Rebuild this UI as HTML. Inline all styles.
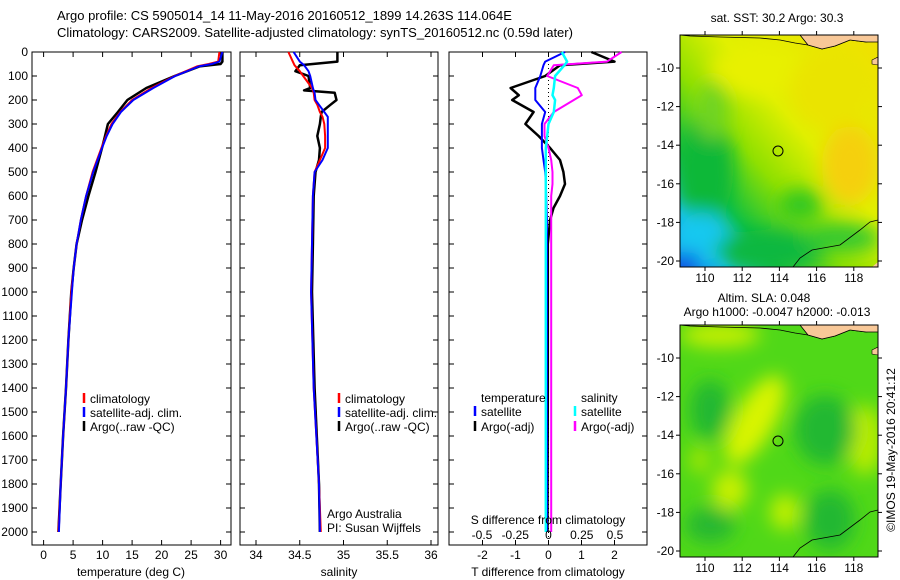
<!DOCTYPE html>
<html><head><meta charset="utf-8"><style>
body{margin:0;background:#fff;}
svg{display:block;font-family:"Liberation Sans",sans-serif;font-size:12px;}
polyline{stroke-linejoin:round;}
</style></head><body>
<svg id="fig" width="900" height="580" viewBox="0 0 900 580">
<defs>
<filter id="blur8"><feGaussianBlur stdDeviation="9"/></filter>
<clipPath id="clipA"><rect x="680" y="35" width="198" height="232"/></clipPath>
<clipPath id="clipB"><rect x="680" y="325" width="198" height="232"/></clipPath>
<linearGradient id="sstg" x1="0" y1="1" x2="1" y2="0">
<stop offset="0" stop-color="#0a5ae8"/><stop offset="0.12" stop-color="#18c0e8"/><stop offset="0.25" stop-color="#10c040"/><stop offset="0.42" stop-color="#90e000"/><stop offset="0.6" stop-color="#e0f000"/><stop offset="1" stop-color="#f0e000"/></linearGradient>
</defs>
<text x="57" y="20" font-size="13">Argo profile: CS 5905014_14 11-May-2016 20160512_1899 14.263S 114.064E</text>
<text x="57" y="37" font-size="13">Climatology: CARS2009. Satellite-adjusted climatology: synTS_20160512.nc (0.59d later)</text>
<g id="panels"></g>
<!-- SST map -->
<g>
<text x="777" y="22" text-anchor="middle">sat. SST: 30.2 Argo: 30.3</text>
<g clip-path="url(#clipA)">
<rect x="680" y="35" width="198" height="232" fill="url(#sstg)"/>
<g filter="url(#blur8)">
<ellipse cx="705" cy="170" rx="28" ry="55" fill="#10b838"/>
<ellipse cx="700" cy="240" rx="30" ry="28" fill="#18c8f0"/>
<ellipse cx="688" cy="262" rx="12" ry="10" fill="#1040e0"/>
<ellipse cx="770" cy="250" rx="55" ry="20" fill="#10b840"/>
<ellipse cx="840" cy="238" rx="40" ry="14" fill="#30c830"/>
<ellipse cx="800" cy="205" rx="22" ry="16" fill="#30c820"/>
<ellipse cx="760" cy="70" rx="50" ry="25" fill="#e8f000"/>
<ellipse cx="712" cy="110" rx="16" ry="30" fill="#70d420"/>
<ellipse cx="850" cy="165" rx="28" ry="40" fill="#f5d010"/>
<ellipse cx="830" cy="90" rx="40" ry="40" fill="#eae400"/>
</g>
<path d="M680,35 L878,35 L878,40 L866,42 L850,40 L835,46 L822,49 L808,45 L795,43 L780,40 L760,38 L720,37 L690,36 Z" fill="none" stroke="#000" stroke-width="0.8"/>
<path d="M800,35 L878,35 L878,42 L866,42 L850,40 L835,46 L822,49 L808,45 Z" fill="#f8c898" stroke="#000" stroke-width="0.8"/>
<path d="M872,60 L878,57 L878,65 L872,64 Z" fill="#f8c898" stroke="#000" stroke-width="0.6"/>
<path d="M793,267 L800,258 L812,250 L840,245 L860,230 L870,222 L878,220" fill="none" stroke="#000" stroke-width="0.8"/>
<path d="M872,267 L878,262 L878,267Z" fill="#f8c898"/>
</g>
<rect x="680" y="35" width="198" height="232" fill="none" stroke="#000"/>
<circle cx="778" cy="151" r="5" fill="none" stroke="#000"/>
</g>
<!-- SLA map -->
<g>
<text x="764" y="302" text-anchor="middle">Altim. SLA: 0.048</text>
<text x="777" y="316" text-anchor="middle">Argo h1000: -0.0047 h2000: -0.013</text>
<g clip-path="url(#clipB)">
<rect x="680" y="325" width="198" height="232" fill="#50d818"/>
<g filter="url(#blur8)">
<ellipse cx="755" cy="420" rx="20" ry="50" fill="#d8f400" transform="rotate(30 755 420)"/>
<ellipse cx="730" cy="490" rx="18" ry="20" fill="#c8f000"/>
<ellipse cx="785" cy="512" rx="15" ry="18" fill="#c0f000"/>
<ellipse cx="865" cy="440" rx="18" ry="35" fill="#b8ec00"/>
<ellipse cx="710" cy="410" rx="20" ry="30" fill="#20b830"/>
<ellipse cx="825" cy="430" rx="30" ry="35" fill="#20b830"/>
<ellipse cx="830" cy="520" rx="25" ry="30" fill="#20b830"/>
<ellipse cx="710" cy="525" rx="25" ry="18" fill="#28b830"/>
<ellipse cx="700" cy="460" rx="10" ry="14" fill="#a8e800"/>
<ellipse cx="720" cy="335" rx="40" ry="12" fill="#c8f000"/>
</g>
<path d="M680,325 L878,325 L878,330 L866,332 L850,330 L835,336 L822,339 L808,335 L795,333 L780,330 L760,328 L720,327 L690,326 Z" fill="none" stroke="#000" stroke-width="0.8"/>
<path d="M800,325 L878,325 L878,332 L866,332 L850,330 L835,336 L822,339 L808,335 Z" fill="#f8c898" stroke="#000" stroke-width="0.8"/>
<path d="M872,350 L878,347 L878,355 L872,354 Z" fill="#f8c898" stroke="#000" stroke-width="0.6"/>
<path d="M793,557 L800,548 L812,540 L840,535 L860,520 L870,512 L878,510" fill="none" stroke="#000" stroke-width="0.8"/>
</g>
<rect x="680" y="325" width="198" height="232" fill="none" stroke="#000"/>
<circle cx="778" cy="441" r="5" fill="none" stroke="#000"/>
</g>
<text transform="translate(895,450) rotate(-90)" text-anchor="middle">©IMOS 19-May-2016 20:41:12</text>
<g id="maps-axes"></g>
</svg>
<script>
// ---- data ----
const tDepth = [0,40,50,60,100,150,200,250,300,350,400,500,600,700,800,900,1000,1200,1400,1600,1800,2000];
const tClim  = [29.8,29.6,28,26,22.2,18.3,15.0,13.0,11.5,10.6,9.8,8.3,7.2,6.3,5.6,5.1,4.7,4.2,3.8,3.3,2.9,2.5];
const tSat   = [30.3,29.8,28.5,26.3,22.3,18.6,15.2,13.1,11.7,10.7,9.9,8.4,7.2,6.3,5.6,5.1,4.8,4.2,3.8,3.3,2.9,2.6];
const tArgo  = [30.3,30.3,30,26.4,22.2,17.4,14.2,12.6,10.9,10.4,9.9,8.8,7.6,6.5,5.6,5.1,4.7,4.2,3.8,3.3,2.9,2.5];
const sDepth = [0,40,55,80,100,150,160,170,200,220,250,270,300,350,400,450,500,600,800,1000,1400,1800,2000];
const sClim  = [34.37,34.42,34.44,34.5,34.54,34.64,34.65,34.66,34.67,34.7,34.73,34.76,34.78,34.79,34.79,34.73,34.67,34.65,34.64,34.63,34.66,34.72,34.74];
const sSat   = [34.43,34.5,34.55,34.6,34.62,34.65,34.66,34.67,34.68,34.72,34.78,34.82,34.82,34.82,34.82,34.76,34.67,34.65,34.64,34.63,34.66,34.72,34.73];
const sArgo  = [34.93,34.93,34.5,34.45,34.6,34.62,34.55,34.9,34.92,34.85,34.75,34.74,34.73,34.7,34.73,34.72,34.68,34.66,34.65,34.64,34.67,34.72,34.73];
const dDepth = [0,40,55,100,150,180,200,250,300,350,400,450,500,550,600,650,700,800,1000,1400,2000];
const dTsat  = [0.5,-0.1,-0.15,-0.25,-0.4,-0.4,-0.4,-0.1,-0.2,-0.2,-0.2,-0.15,-0.1,-0.08,-0.07,-0.06,-0.05,-0.05,-0.05,-0.05,-0.05];
const dTargo = [1.3,2.0,0.35,-0.1,-1.15,-0.9,-1.1,-0.45,-0.7,-0.3,0.05,0.35,0.45,0.5,0.35,0.15,0.05,-0.02,-0.02,-0.02,-0.03];
const dSsat  = [0.1,0.14,0.12,0.05,0.04,0.03,0.05,0.04,0,-0.01,-0.02,-0.02,-0.02,-0.02,-0.02,-0.02,-0.02,-0.02,-0.02,-0.02,-0.02];
const dSargo = [0.55,0.44,0.04,-0.01,0.22,0.25,0.19,0.04,-0.03,-0.03,0,0.02,0.03,0.03,0.02,0.02,0.02,0.02,0.02,0.02,0.02];
const depthTicks = [0,100,200,300,400,500,600,700,800,900,1000,1100,1200,1300,1400,1500,1600,1700,1800,1900,2000];
const tTicks = [0,5,10,15,20,25,30];
const sTicks = [34,34.5,35,35.5,36];
const dTTicks = [-2,-1,0,1,2];
const dSTicks = [-0.5,-0.25,0,0.25,0.5];
const lonTicks = [110,112,114,116,118];
const latTicks = [-10,-12,-14,-16,-18,-20];

const NS='http://www.w3.org/2000/svg';
const P=document.getElementById('panels');
function mk(tag,attrs,parent,txt){const e=document.createElementNS(NS,tag);for(const k in attrs)e.setAttribute(k,attrs[k]);if(txt!=null)e.textContent=txt;(parent||P).appendChild(e);return e;}
const yD=d=>52+d*0.24;
const xT=v=>43.6+v*5.9;
const xS=v=>256+(v-34)*87.5;
const xDT=v=>548.5+v*33;
const xDS=v=>548.5+v*133;
function line(xs,ds,xf,color,name,w){
  const pts=xs.map((v,i)=>xf(v).toFixed(1)+','+yD(ds[i]).toFixed(1)).join(' ');
  const e=mk('polyline',{points:pts,fill:'none',stroke:color,'stroke-width':w||2});
  
  
}
function frame(x0,x1,name){
  const r=mk('rect',{x:x0,y:52,width:x1-x0,height:493,fill:'none',stroke:'#000'});
  
  
}
function xticks(ticks,xf,y0,labY){
  ticks.forEach(t=>{const x=xf(t);
    mk('line',{x1:x,x2:x,y1:545,y2:540,stroke:'#000'});
    mk('line',{x1:x,x2:x,y1:52,y2:57,stroke:'#000'});
    const tx=mk('text',{x:x,y:labY,'text-anchor':'middle'},P,String(t));
    
    
  });
}
function yticks(x0,x1){depthTicks.forEach(d=>{mk('line',{x1:x0,x2:x0+5,y1:yD(d),y2:yD(d),stroke:'#000'});mk('line',{x1:x1,x2:x1-5,y1:yD(d),y2:yD(d),stroke:'#000'});});}
function legend(x,y,color,label){
  mk('line',{x1:x-6,x2:x-6,y1:y-10,y2:y,stroke:color,'stroke-width':2.5});
  const t=mk('text',{x:x,y:y},P,label);
  
  
}
// Panel 1
frame(32,231,'temperature-panel');
yticks(32,231);
depthTicks.forEach(d=>{const t=mk('text',{x:28,y:yD(d)+4,'text-anchor':'end'},P,String(d));
  
  });
xticks(tTicks,xT,0,559);
line(tArgo,tDepth,xT,'#000','temp-argo-line',2.5);
line(tClim,tDepth,xT,'#f00','temp-climatology-line');
line(tSat,tDepth,xT,'#00f','temp-satellite-line');
let xl=mk('text',{x:131,y:576,'text-anchor':'middle'},P,'temperature (deg C)');


legend(90,403,'#f00','climatology');legend(90,417,'#00f','satellite-adj. clim.');legend(90,431,'#000','Argo(..raw -QC)');
// Panel 2
frame(240,438,'salinity-panel');
yticks(240,438);
xticks(sTicks,xS,0,559);
line(sArgo,sDepth,xS,'#000','sal-argo-line',2.5);
line(sClim,sDepth,xS,'#f00','sal-climatology-line');
line(sSat,sDepth,xS,'#00f','sal-satellite-line');
xl=mk('text',{x:339,y:576,'text-anchor':'middle'},P,'salinity');


legend(345,403,'#f00','climatology');legend(345,417,'#00f','satellite-adj. clim.');legend(345,431,'#000','Argo(..raw -QC)');
let tx=mk('text',{x:327,y:518},P,'Argo Australia');


tx=mk('text',{x:327,y:532},P,'PI: Susan Wijffels');


// Panel 3
frame(449,647,'difference-panel');
yticks(449,647);
xticks(dTTicks,xDT,0,559);
mk('line',{x1:548.5,x2:548.5,y1:52,y2:545,stroke:'#000','stroke-dasharray':'1,3'});
line(dTargo,dDepth,xDT,'#000','tdiff-argo-line',2.5);
line(dSargo,dDepth,xDS,'#f0f','sdiff-argo-line');
line(dTsat,dDepth,xDT,'#00f','tdiff-satellite-line');
line(dSsat,dDepth,xDS,'#0ff','sdiff-satellite-line',2.5);
dSTicks.forEach(t=>{const l=mk('text',{x:xDS(t),y:539,'text-anchor':'middle'},P,String(t));
  
  });
tx=mk('text',{x:548,y:524,'text-anchor':'middle'},P,'S difference from climatology');


xl=mk('text',{x:548,y:576,'text-anchor':'middle'},P,'T difference from climatology');


tx=mk('text',{x:481,y:402},P,'temperature');


tx=mk('text',{x:581,y:402},P,'salinity');


legend(481,416,'#00f','satellite');legend(481,431,'#000','Argo(-adj)');
legend(581,416,'#0ff','satellite');legend(581,431,'#f0f','Argo(-adj)');
// map axes
const M=document.getElementById('maps-axes');
const xLon=v=>705+(v-110)*18.6;
[[35,267,68],[325,557,358]].forEach(([top,bot,y10])=>{
  lonTicks.forEach(l=>{const x=xLon(l);
    mk('line',{x1:x,x2:x,y1:bot,y2:bot+4,stroke:'#000'},M);
    mk('line',{x1:x,x2:x,y1:top,y2:top-4,stroke:'#000'},M);
    const t=mk('text',{x:x,y:bot+15,'text-anchor':'middle'},M,String(l));
    
    
  });
  latTicks.forEach(l=>{const y=y10+(-10-l)*19.3;
    mk('line',{x1:676,x2:680,y1:y,y2:y,stroke:'#000'},M);
    mk('line',{x1:878,x2:882,y1:y,y2:y,stroke:'#000'},M);
    const t=mk('text',{x:674,y:y+4,'text-anchor':'end'},M,String(l));
    
    
  });
});
</script>
</body></html>
